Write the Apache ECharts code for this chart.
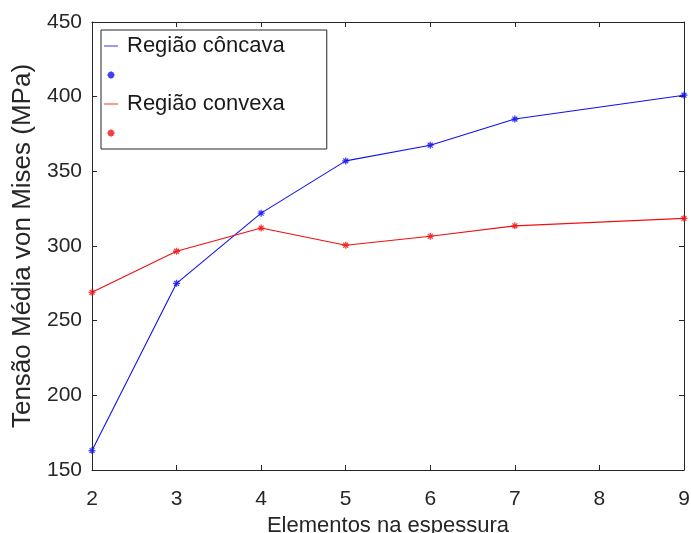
<!DOCTYPE html>
<html>
<head>
<meta charset="utf-8">
<script src="https://cdn.jsdelivr.net/npm/echarts@6/dist/echarts.min.js"></script>
<style>html,body{margin:0;padding:0;background:#fff;}#c{width:691px;height:533px;}</style>
</head>
<body>
<div id="c"></div>
<script>
var elements = [2, 3, 4, 5, 6, 7, 9];
var concava = [163, 275, 322, 357, 367.5, 385, 401];
var convexa = [269, 296.5, 312, 300.5, 306.5, 313.5, 318.5];
var xTicks = [2, 3, 4, 5, 6, 7, 8, 9];
var yTicks = [150, 200, 250, 300, 350, 400, 450];
var nameConcava = 'Região côncava';
var nameConvexa = 'Região convexa';
var xName = 'Elementos na espessura';
var yName = 'Tensão Média von Mises (MPa)';

var FONT = 'Liberation Sans';
var TXT = '#262626';
var BLUE = '#1010f0';
var RED = '#f01010';
// asterisk with invisible zero-length anchors to shrink the glyph inside its box
var STAR = 'path://M-20,-20L-20,-20M20,20L20,20M0,-10L0,10M-10,0L10,0M-7,-7L7,7M-7,7L7,-7';
var LINEICON = 'path://M0,0H20V1.2H0Z';

function pairs(xs, ys) { return xs.map(function (x, i) { return [x, ys[i]]; }); }

var axisLineStyle = { show: true, lineStyle: { color: TXT, width: 1 } };
var tickInside = { show: true, inside: true, length: 5, lineStyle: { color: TXT, width: 1 } };

var chart = echarts.init(document.getElementById('c'), null, { renderer: 'canvas' });
chart.setOption({
  animation: false,
  backgroundColor: '#fff',
  textStyle: { fontFamily: FONT },
  grid: { left: 92, right: 7, top: 22, bottom: 63, containLabel: false, outerBoundsMode: 'none' },
  xAxis: [{
    type: 'value', min: 2, max: 9, interval: 1,
    name: xName, nameLocation: 'middle', nameGap: 39,
    nameTextStyle: { fontSize: 22, color: TXT, fontFamily: FONT },
    axisLine: axisLineStyle, axisTick: tickInside,
    axisLabel: { fontSize: 21, color: TXT, margin: 19, fontFamily: FONT },
    splitLine: { show: false }
  }, {
    type: 'value', min: 2, max: 9, interval: 1, position: 'top',
    axisLine: axisLineStyle, axisTick: tickInside,
    axisLabel: { show: false }, splitLine: { show: false }
  }],
  yAxis: [{
    type: 'value', min: 150, max: 450, interval: 50,
    name: yName, nameLocation: 'middle', nameGap: 56, nameRotate: 90,
    nameTextStyle: { fontSize: 26, color: TXT, fontFamily: FONT },
    axisLine: axisLineStyle, axisTick: tickInside,
    axisLabel: { fontSize: 21, color: TXT, margin: 10, fontFamily: FONT },
    splitLine: { show: false }
  }, {
    type: 'value', min: 150, max: 450, interval: 50, position: 'right',
    axisLine: axisLineStyle, axisTick: tickInside,
    axisLabel: { show: false }, splitLine: { show: false }
  }],
  legend: {
    orient: 'vertical', left: 101, top: 30,
    backgroundColor: '#fff', borderColor: TXT, borderWidth: 1,
    padding: [5, 42, 5, 2], itemGap: 7, itemWidth: 14, itemHeight: 20,
    textStyle: { fontSize: 22, color: '#1a1a1a', fontFamily: FONT, padding: [0, 0, 0, 4] },
    data: [
      { name: nameConcava, icon: LINEICON, itemStyle: { color: BLUE, borderWidth: 0 } },
      { name: ' ', icon: STAR },
      { name: nameConvexa, icon: LINEICON, itemStyle: { color: RED, borderWidth: 0 } },
      { name: '  ', icon: STAR }
    ]
  },
  series: [
    { name: nameConcava, type: 'line', data: pairs(elements, concava), showSymbol: false,
      lineStyle: { color: BLUE, width: 1.1 }, itemStyle: { color: BLUE } },
    { name: ' ', type: 'scatter', data: pairs(elements, concava), symbol: STAR, symbolSize: 14,
      itemStyle: { color: BLUE, borderColor: BLUE, borderWidth: 1.3 } },
    { name: nameConvexa, type: 'line', data: pairs(elements, convexa), showSymbol: false,
      lineStyle: { color: RED, width: 1.1 }, itemStyle: { color: RED } },
    { name: '  ', type: 'scatter', data: pairs(elements, convexa), symbol: STAR, symbolSize: 14,
      itemStyle: { color: RED, borderColor: RED, borderWidth: 1.3 } }
  ]
});
</script>
</body>
</html>
